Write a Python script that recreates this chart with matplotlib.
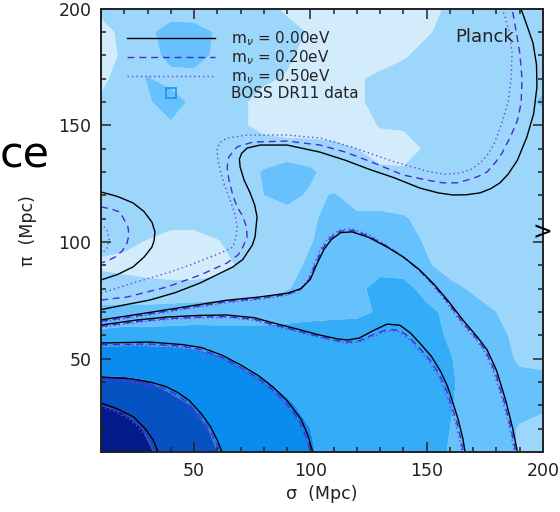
import numpy as np
import matplotlib
matplotlib.use("Agg")
import matplotlib.pyplot as plt
from matplotlib.lines import Line2D

# ---------------- data ----------------
sigma_grid = [10, 20, 30, 40, 50, 60, 70, 80, 90, 100, 110, 120, 130, 140, 150, 160, 170, 180, 190, 200]
pi_grid_top_down = [200, 190, 180, 170, 160, 150, 140, 130, 120, 110, 100, 90, 80, 70, 60, 50, 40, 30, 20, 10]

# BOSS DR11 xi(sigma, pi), expressed in contour-band units (rows: pi = 200 ... 10)
xi_rows = [
    [1.3, 1.5, 1.5, 1.5, 1.4, 1.4, 1.4, 1.2, 0.9, 0.7, 0.5, 0.4, 0.4, 0.5, 0.8, 1.1, 1.4, 1.5, 1.5, 1.6],
    [0.6, 1.3, 1.8, 2.4, 2.4, 1.9, 1.5, 1.4, 1.2, 0.95, 0.6, 0.4, 0.4, 0.6, 0.9, 1.3, 1.5, 1.5, 1.5, 1.6],
    [0.5, 1.2, 1.6, 2.3, 2.4, 1.8, 1.4, 1.3, 1.1, 0.8, 0.6, 0.5, 0.6, 0.9, 1.3, 1.5, 1.5, 1.5, 1.5, 1.6],
    [0.7, 1.6, 2.05, 1.7, 1.7, 1.5, 1.3, 1.1, 0.95, 0.7, 0.6, 0.9, 1.2, 1.4, 1.5, 1.5, 1.5, 1.5, 1.6, 1.8],
    [1.2, 1.5, 1.9, 2.4, 1.8, 1.4, 1.1, 0.8, 0.6, 0.5, 0.6, 0.9, 1.2, 1.4, 1.5, 1.5, 1.5, 1.6, 1.8, 2.1],
    [1.3, 1.5, 1.7, 1.9, 1.6, 1.4, 1.1, 0.8, 0.6, 0.6, 0.6, 0.7, 1.05, 1.1, 1.2, 1.4, 1.5, 1.5, 1.6, 1.7],
    [1.4, 1.5, 1.5, 1.5, 1.5, 1.5, 1.4, 1.3, 1.35, 1.3, 1.2, 1.0, 0.7, 0.7, 1.1, 1.4, 1.5, 1.5, 1.5, 1.6],
    [1.4, 1.5, 1.5, 1.5, 1.5, 1.5, 1.5, 2.1, 2.5, 2.2, 1.5, 1.3, 1.15, 1.1, 1.3, 1.4, 1.5, 1.5, 1.5, 1.6],
    [1.3, 1.5, 1.5, 1.5, 1.5, 1.5, 1.5, 2.0, 2.3, 1.85, 2.05, 1.8, 1.6, 1.5, 1.5, 1.5, 1.5, 1.5, 1.5, 1.5],
    [1.1, 1.4, 1.5, 1.4, 1.3, 1.4, 1.5, 1.5, 1.6, 1.9, 2.2, 2.1, 2.2, 2.1, 1.7, 1.6, 1.5, 1.5, 1.5, 1.5],
    [1.3, 1.2, 0.95, 0.6, 0.7, 0.95, 1.3, 1.5, 1.6, 1.95, 2.4, 2.5, 2.5, 2.4, 1.9, 1.6, 1.5, 1.5, 1.5, 1.5],
    [0.85, 0.75, 0.6, 0.5, 0.5, 0.7, 1.1, 1.4, 1.6, 2.2, 2.5, 2.6, 2.7, 2.6, 2.1, 1.7, 1.5, 1.5, 1.5, 1.5],
    [1.5, 1.4, 1.35, 1.3, 1.3, 1.35, 1.5, 1.6, 1.95, 2.3, 2.5, 2.8, 3.3, 3.3, 2.7, 2.2, 1.9, 1.6, 1.5, 1.5],
    [2.2, 2.3, 2.3, 2.4, 2.5, 2.6, 2.6, 2.6, 2.7, 2.8, 2.8, 2.8, 3.1, 3.5, 3.2, 2.8, 2.3, 2.0, 1.7, 1.6],
    [3.3, 3.4, 3.4, 3.4, 3.4, 3.3, 3.3, 3.3, 3.3, 3.3, 3.4, 3.5, 3.5, 3.5, 3.3, 2.9, 2.6, 2.2, 1.8, 1.8],
    [4.7, 4.7, 4.7, 4.6, 4.4, 4.15, 3.85, 3.6, 3.5, 3.5, 3.5, 3.5, 3.5, 3.4, 3.3, 3.05, 2.6, 2.3, 1.9, 1.9],
    [5.1, 5.08, 5.02, 4.7, 4.6, 4.4, 4.3, 4.05, 3.8, 3.6, 3.5, 3.5, 3.5, 3.5, 3.4, 3.1, 2.7, 2.4, 2.2, 2.1],
    [6.0, 5.8, 5.5, 5.3, 4.95, 4.7, 4.5, 4.3, 4.1, 3.8, 3.6, 3.5, 3.5, 3.5, 3.4, 3.05, 2.7, 2.4, 2.2, 2.1],
    [6.6, 6.4, 5.9, 5.6, 5.3, 4.8, 4.6, 4.4, 4.2, 4.0, 3.8, 3.7, 3.6, 3.5, 3.4, 3.0, 2.6, 2.3, 1.95, 1.8],
    [6.9, 6.6, 6.1, 5.7, 5.4, 5.0, 4.7, 4.5, 4.3, 4.05, 3.8, 3.7, 3.6, 3.5, 3.3, 2.95, 2.6, 2.3, 1.95, 1.7],
]
band_levels = [-10, 1, 2, 3, 4, 5, 6, 10]
band_colors = ['#d3ecfc', '#9dd6fb', '#66c1fc', '#35acf8', '#0a8cee', '#0652c2', '#021c8c']

# ---- model contours, m_nu = 0.00 eV (solid) ----
s0_a_sig = [10, 17, 24, 29, 32.5, 34.5]
s0_a_pi = [31, 28.5, 25, 20, 15, 10]
s0_b_sig = [10, 22, 31, 38, 43, 48, 53, 57, 60, 62]
s0_b_pi = [42.1, 41.5, 40, 38, 35.5, 32, 26.5, 21, 15, 10]
s0_c_sig = [10, 31, 45, 53, 62, 70, 78, 84, 90, 96, 99, 101]
s0_c_pi = [56.7, 57.1, 56, 54.8, 51.5, 47.3, 42.5, 37.8, 32, 24, 17, 10]
s0_d_sig = [10, 25, 38, 52, 64, 76, 84, 95, 104, 112, 116, 121, 127, 133, 138.5, 143, 147, 152, 156, 159, 161, 163.5, 165.5, 166.5]
s0_d_pi = [64.4, 66.5, 67.8, 68.5, 68.7, 67.5, 65.3, 62.5, 60.1, 58.4, 58, 58.8, 62, 64.8, 64.3, 61, 56.7, 51, 44.5, 38, 32, 24, 16, 10]
s0_e_sig = [10, 24, 45, 64, 78, 90, 96, 100, 103, 106, 109, 113, 118, 125, 133, 140, 147, 153, 159, 166, 172, 176, 180, 184, 187, 189]
s0_e_pi = [66.6, 68.7, 72, 75, 76.4, 78, 80, 84, 91, 97, 101, 104, 104.3, 102, 97.8, 93.5, 88, 82, 75, 66, 59, 53.7, 45, 32, 20, 10]
s0_f_sig = [10, 20, 31, 42, 52.6, 60, 66.7, 71, 72.8, 75, 76.2, 77.1, 76, 74.1, 71.5, 69.8, 69.5, 70.5, 72.8, 78.4, 90, 104, 115, 125.6, 136, 147, 155, 161.3, 167, 172.9, 177.5, 181.5, 185, 189, 193.1, 196, 197.4, 197.2, 195.7, 193, 190.5]
s0_f_pi = [71, 73, 75.1, 78.3, 82.4, 86, 89.3, 92.5, 95.3, 98.5, 102.1, 110.7, 116, 121, 126.5, 132.1, 135.5, 138, 140.2, 141.5, 141.5, 138.5, 135, 131, 127.5, 123.1, 121, 120.1, 120.2, 121, 122.8, 125.3, 129, 135, 145, 155, 166.4, 176, 185.2, 193, 200]
s0_g_sig = [10, 17, 23.8, 28.5, 31.9, 33.2, 32.8, 31.9, 28.5, 23.8, 17, 10]
s0_g_pi = [121.4, 119.5, 116.7, 113, 108.5, 104.3, 100.5, 97.8, 93.5, 89.3, 86, 83.7]

# ---- m_nu = 0.20 eV (dashed) ----
s2_a_sig = [10, 16.5, 23, 28, 31.5, 33.5]
s2_a_pi = [30.2, 27.8, 24.3, 19.5, 14.5, 10]
s2_b_sig = [10, 22, 30.5, 37.3, 42.2, 47.2, 52.2, 56.2, 59.2, 61.2]
s2_b_pi = [41.3, 40.7, 39.2, 37.2, 34.7, 31.2, 25.8, 20.3, 14.5, 10]
s2_c_sig = [10, 31, 45, 52.5, 61.4, 69.3, 77.3, 83.3, 89.3, 95.2, 98.2, 100.2]
s2_c_pi = [55.9, 56.3, 55.2, 54, 50.8, 46.6, 41.8, 37.1, 31.4, 23.5, 16.5, 10]
s2_d_sig = [10, 25, 38, 52, 64, 76, 84, 95, 104, 112, 116, 121, 127, 133, 138.3, 142.5, 146.3, 151.2, 155.2, 158.2, 160.2, 162.7, 164.7, 165.7]
s2_d_pi = [63.8, 65.9, 67.1, 67.8, 68, 66.8, 64.6, 61.8, 59.4, 57.6, 57.1, 57.7, 60.3, 62.5, 62.2, 59.2, 55.2, 49.8, 43.6, 37.3, 31.4, 23.6, 15.7, 10]
s2_e_sig = [10, 24, 45, 64, 78, 90, 95.6, 99.4, 102.4, 105.3, 108.3, 112.6, 118, 125, 132.8, 139.6, 146.5, 152.5, 158.4, 165.3, 171.3, 175.3, 179.3, 183.3, 186.3, 188.3]
s2_e_pi = [66, 68.1, 71.4, 74.4, 75.8, 77.5, 79.6, 83.8, 91, 97.2, 101.4, 104.6, 105, 102.6, 98.2, 93.8, 88.2, 82.1, 75, 65.8, 58.8, 53.4, 44.6, 31.7, 19.8, 10]
s2_f_sig = [10, 21.2, 38.4, 52.6, 64.2, 69, 71, 72.8, 72.5, 71, 68.5, 66.7, 65, 64.2, 65, 68.5, 75.3, 90, 104.2, 115, 125.6, 139.8, 150, 157, 163, 167.4, 172, 176, 179.5, 182.4, 186, 189, 190.6, 191, 190, 188.5, 186.7]
s2_f_pi = [75.1, 76.4, 80.7, 85.8, 91, 94.5, 97.8, 102, 106.4, 111, 115, 120, 126.5, 132, 136.5, 140.7, 142.8, 143.2, 141.5, 138.5, 134.5, 128.7, 126.5, 125.3, 125.3, 126.5, 128, 130, 134, 138.1, 145, 152, 159.5, 170, 181, 190, 200]
s2_g_sig = [10, 14, 18.2, 21.6, 22, 21.2, 19, 16, 12.5, 10]
s2_g_pi = [115, 114.2, 112.8, 106.4, 103, 99.5, 96, 93.5, 91.8, 91]

# ---- m_nu = 0.50 eV (dotted) ----
s5_a_sig = [10, 16, 22.5, 27.5, 31, 33]
s5_a_pi = [29.6, 27.3, 23.8, 19, 14, 10]
s5_b_sig = [10, 22, 30, 36.8, 41.6, 46.6, 51.6, 55.6, 58.6, 60.6]
s5_b_pi = [40.8, 40.2, 38.7, 36.7, 34.2, 30.7, 25.3, 19.9, 14.2, 10]
s5_c_sig = [10, 31, 45, 52, 61, 68.8, 76.8, 82.8, 88.8, 94.7, 97.7, 99.7]
s5_c_pi = [55.4, 55.8, 54.7, 53.5, 50.3, 46.1, 41.3, 36.6, 31, 23.1, 16.2, 10]
s5_d_sig = [10, 25, 38, 52, 64, 76, 84, 95, 104, 112, 116, 121, 127, 133, 138, 142, 145.8, 150.6, 154.6, 157.6, 159.6, 162.1, 164.1, 165.1]
s5_d_pi = [63.4, 65.5, 66.7, 67.4, 67.6, 66.4, 64.2, 61.4, 59, 57.2, 56.6, 57.1, 59.6, 61.8, 61.5, 58.6, 54.7, 49.3, 43.1, 36.9, 31, 23.3, 15.5, 10]
s5_e_sig = [10, 24, 45, 64, 78, 90, 95.2, 98.9, 101.8, 104.7, 107.7, 112.2, 118, 125, 132.6, 139.3, 146.1, 152, 157.9, 164.8, 170.8, 174.8, 178.8, 182.8, 185.8, 187.8]
s5_e_pi = [65.6, 67.7, 71, 74, 75.4, 77.2, 79.3, 83.6, 91, 97.5, 101.8, 105.1, 105.6, 103.1, 98.6, 94.1, 88.4, 82.2, 75, 65.6, 58.6, 53.2, 44.3, 31.5, 19.6, 10]
s5_f_sig = [10, 23.8, 38.4, 48, 56.9, 62, 66.7, 68, 68.5, 67.5, 65.5, 63, 61.2, 60.2, 59.9, 61, 64.2, 72.8, 90, 104.2, 118.3, 135.5, 151.4, 158, 164.3, 169, 172.9, 176, 179, 182, 185, 186.3, 186.7, 185.5, 183.8, 182.4]
s5_f_pi = [78.1, 82.4, 86.7, 90, 93.5, 95.5, 97.8, 102, 106.4, 112, 118, 124.5, 130.8, 135.5, 139.4, 142.5, 144.5, 145.8, 145.8, 144.5, 140.5, 134.5, 130, 129, 129.5, 131, 133.8, 137, 142, 150, 160, 170, 181, 190, 196, 200]
s5_g_sig = [10, 12.5, 13.5, 12.5, 10]
s5_g_pi = [108, 105, 101, 97, 95]

legend_labels = ['m$_\\nu$ = 0.00eV', 'm$_\\nu$ = 0.20eV', 'm$_\\nu$ = 0.50eV', 'BOSS DR11 data']

# ---------------- plot ----------------
plt.rcParams['font.family'] = ['DejaVu Sans']
fig = plt.figure(figsize=(5.6, 5.12), dpi=100)
ax = fig.add_axes([101 / 560, 60 / 512, 442 / 560, 443.5 / 512])

S, P = np.meshgrid(np.array(sigma_grid, float), np.array(pi_grid_top_down[::-1], float))
Z = np.array(xi_rows[::-1], float)
ax.contourf(S, P, Z, levels=band_levels, colors=band_colors, antialiased=True)

dash_col = '#4a2ad8'
dot_col = '#6d3fe3'
dotted_sets = [(s5_a_sig, s5_a_pi), (s5_b_sig, s5_b_pi), (s5_c_sig, s5_c_pi), (s5_d_sig, s5_d_pi),
               (s5_e_sig, s5_e_pi), (s5_f_sig, s5_f_pi), (s5_g_sig, s5_g_pi)]
dashed_sets = [(s2_a_sig, s2_a_pi), (s2_b_sig, s2_b_pi), (s2_c_sig, s2_c_pi), (s2_d_sig, s2_d_pi),
               (s2_e_sig, s2_e_pi), (s2_f_sig, s2_f_pi), (s2_g_sig, s2_g_pi)]
solid_sets = [(s0_a_sig, s0_a_pi), (s0_b_sig, s0_b_pi), (s0_c_sig, s0_c_pi), (s0_d_sig, s0_d_pi),
              (s0_e_sig, s0_e_pi), (s0_f_sig, s0_f_pi), (s0_g_sig, s0_g_pi)]
for xs, ys in dotted_sets:
    ax.plot(xs, ys, color=dot_col, lw=1.0, ls=(0, (1, 2.2)))
for xs, ys in dashed_sets:
    ax.plot(xs, ys, color=dash_col, lw=1.0, ls=(0, (5, 3.5)))
for xs, ys in solid_sets:
    ax.plot(xs, ys, color='black', lw=1.0)

ax.set_xlim(10, 200)
ax.set_ylim(10, 200)
ax.set_xticks([50, 100, 150, 200])
ax.set_yticks([50, 100, 150, 200])
ax.set_xticks(np.arange(10, 201, 10), minor=True)
ax.set_yticks(np.arange(10, 201, 10), minor=True)
ax.tick_params(which='both', direction='in', top=True, right=True, colors='#222222', width=1.1)
ax.tick_params(which='major', length=7, labelsize=12.5, pad=7, labelcolor='#222222')
ax.tick_params(which='minor', length=3.5)
for sp in ax.spines.values():
    sp.set_linewidth(1.4)
    sp.set_color('#222222')

ax.set_xlabel('σ  (Mpc)', fontsize=12.5, color='#222222', labelpad=4)
ax.set_ylabel('π  (Mpc)', fontsize=12.5, color='#222222', labelpad=15)

handles = [Line2D([], [], color='black', lw=1.0),
           Line2D([], [], color=dash_col, lw=1.0, ls=(0, (5, 3.5))),
           Line2D([], [], color=dot_col, lw=1.0, ls=(0, (1, 2.2))),
           Line2D([], [], ls='none', marker='s', ms=7, mfc='none', mec='#1e8ff0', mew=1.2)]
leg = ax.legend(handles, legend_labels, loc='upper left', bbox_to_anchor=(0.058, 0.952),
                frameon=False, fontsize=11, handlelength=5.8, handletextpad=1.0,
                labelspacing=0.0, borderaxespad=0, borderpad=0)
for t in leg.get_texts():
    t.set_color('#222222')

ax.text(175, 188, 'Planck', fontsize=13, color='#222222', ha='center', va='center')

# slide fragments around the chart
fig.text(50 / 560, 1 - 168 / 512, 'ce', fontsize=31, ha='right', va='baseline', color='black')
fig.text(552 / 560, 1 - 232 / 512, '>', fontsize=17, ha='right', va='center', color='black')

fig.savefig('out.png', dpi=100)
